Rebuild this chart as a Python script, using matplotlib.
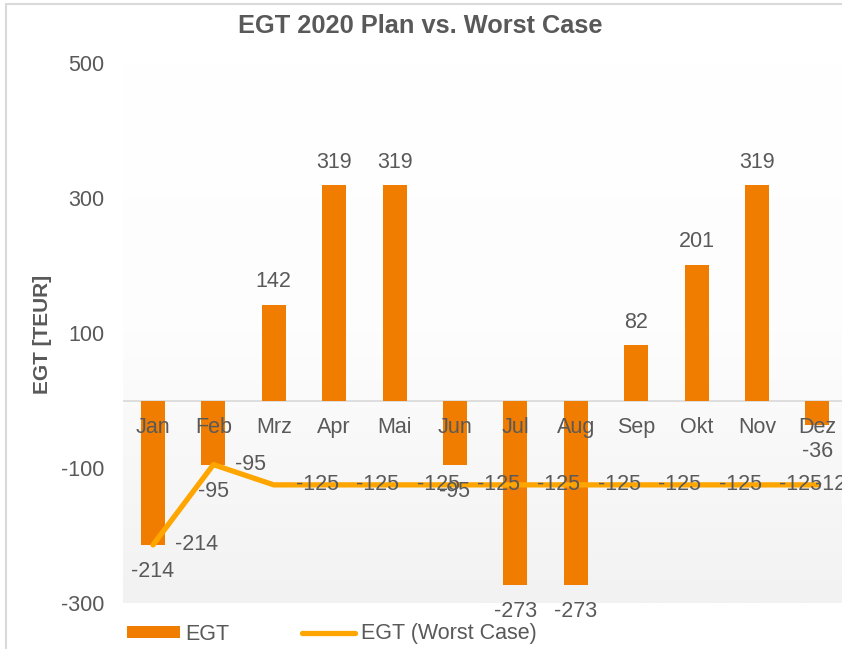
import numpy as np
import matplotlib
matplotlib.use("Agg")
import matplotlib.pyplot as plt
from matplotlib.patches import Rectangle, Patch
from matplotlib.lines import Line2D
from matplotlib.colors import LinearSegmentedColormap

plt.rcParams['font.family'] = ['Liberation Sans', 'DejaVu Sans']
plt.rcParams['axes.unicode_minus'] = False

months = ["Jan", "Feb", "Mrz", "Apr", "Mai", "Jun", "Jul", "Aug", "Sep", "Okt", "Nov", "Dez"]
egt = [-214, -95, 142, 319, 319, -95, -273, -273, 82, 201, 319, -36]
egt_worst = [-214, -95, -125, -125, -125, -125, -125, -125, -125, -125, -125, -125]
yticks = [-300, -100, 100, 300, 500]

BAR_C = "#F07D00"
LINE_C = "#FFA500"
TXT_C = "#595959"
FS = 15.5

W, H = 842, 649
fig = plt.figure(figsize=(W / 100, H / 100), dpi=100)

# chart area border
fig.patches.append(Rectangle((6 / W, -0.05), 1.1, 1 - 4 / H + 0.05, transform=fig.transFigure,
                             fill=False, edgecolor="#d9d9d9", linewidth=1.5, zorder=0))

left, right = 122.8, 847.6
top, bottom = 63, 603
ax = fig.add_axes([left / W, 1 - bottom / H, (right - left) / W, (bottom - top) / H])
ax.set_xlim(-0.5, len(months) - 0.5)
ax.set_ylim(-300, 500)

# gradient background of plot area
grad = np.linspace(0, 1, 256).reshape(-1, 1)
cmap = LinearSegmentedColormap.from_list("g", ["#f2f2f2", "#fdfdfd", "#ffffff"])
ax.imshow(grad, extent=[-0.5, len(months) - 0.5, -300, 500], origin="lower",
          aspect="auto", cmap=cmap, zorder=0)

x = np.arange(len(months))
ax.bar(x, egt, width=0.4, color=BAR_C, zorder=2)
ax.axhline(0, color="#d9d9d9", linewidth=1.2, zorder=1)
ax.plot(x, egt_worst, color=LINE_C, linewidth=3.8, solid_capstyle="round",
        solid_joinstyle="round", zorder=3)

for s in ax.spines.values():
    s.set_visible(False)
ax.set_xticks([])
ax.set_yticks(yticks)
ax.tick_params(axis="y", length=0, pad=13, labelsize=FS, labelcolor=TXT_C)

# category labels just below zero line
for i, m in enumerate(months):
    ax.annotate(m, xy=(i, 0), xytext=(0, -27), textcoords="offset pixels",
                ha="center", va="center", fontsize=FS, color=TXT_C, zorder=4)

# bar labels
for i, v in enumerate(egt):
    off = 23 if v >= 0 else -27
    ax.annotate(f"{v}", xy=(i, v), xytext=(0, off), textcoords="offset pixels",
                ha="center", va="center", fontsize=FS, color=TXT_C, zorder=4)

# line labels
for i, v in enumerate(egt_worst):
    if i == len(months) - 1:
        ax.annotate(f"{v}", xy=(i, v), xytext=(-2, 0), textcoords="offset pixels",
                    ha="left", va="center", fontsize=FS, color=TXT_C, zorder=4,
                    annotation_clip=False)
    else:
        ax.annotate(f"{v}", xy=(i, v), xytext=(22, 0), textcoords="offset pixels",
                    ha="left", va="center", fontsize=FS, color=TXT_C, zorder=4)

fig.text(420 / W, 1 - 26 / H, "EGT 2020 Plan vs. Worst Case", ha="center", va="center",
         fontsize=18.3, fontweight="bold", color=TXT_C)
fig.text(42 / W, 1 - 334 / H, "EGT [TEUR]", ha="center", va="center", rotation=90,
         fontsize=15, fontweight="bold", color=TXT_C)

handles = [Patch(facecolor=BAR_C, edgecolor="none"),
           Line2D([0], [0], color=LINE_C, linewidth=3.8, solid_capstyle="round")]
fig.legend(handles, ["EGT", "EGT (Worst Case)"], loc="center left",
           bbox_to_anchor=(127 / W, 1 - 634 / H), ncol=2, frameon=False,
           fontsize=FS, labelcolor=TXT_C, handlelength=2.45, handleheight=0.5,
           handletextpad=0.25, columnspacing=3.4, borderaxespad=0, borderpad=0)

fig.savefig("out.png", dpi=100)
